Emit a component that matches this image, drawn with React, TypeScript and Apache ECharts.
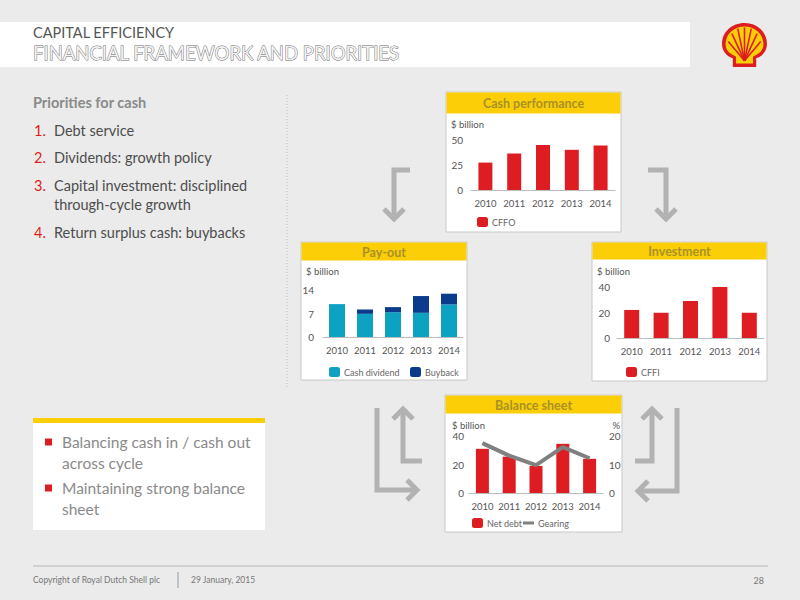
import React, { useEffect, useRef } from 'react';
import * as echarts from 'echarts';

// ---------- data ----------
const years = ['2010', '2011', '2012', '2013', '2014'];
const cffo = [27.4, 36.5, 45.0, 40.2, 44.5];
const cashDividend = [9.8, 6.9, 7.4, 7.2, 9.7];
const buyback = [0, 1.3, 1.5, 5.0, 3.2];
const cffi = [22.0, 19.8, 29.0, 40.0, 19.8];
const netDebt = [31.0, 25.5, 19.0, 34.5, 24.0];
const gearing = [17.5, 13.1, 9.8, 16.1, 12.2];

const cashTicks = [0, 25, 50];
const payoutTicks = [0, 7, 14];
const investTicks = [0, 20, 40];
const debtTicks = [0, 20, 40];
const gearingTicks = [0, 10, 20];

const priorities = [
  ['1.', 'Debt service'],
  ['2.', 'Dividends: growth policy'],
  ['3.', 'Capital investment: disciplined', 'through-cycle growth'],
  ['4.', 'Return surplus cash: buybacks'],
];
const principles = [
  ['Balancing cash in / cash out', 'across cycle'],
  ['Maintaining strong balance', 'sheet'],
];

// ---------- style ----------
const FONT = "Lato, 'Open Sans', sans-serif";
const RED = '#dd1d21';
const YELLOW = '#fbce07';
const TEAL = '#0ea2c2';
const NAVY = '#0b3b8c';
const GREY_LINE = '#808080';
const ARROW = '#b2b2b2';

echarts.graphic.registerShape(
  'pectenOuter',
  echarts.graphic.extendPath(
    'M50 0 C22 0 0 20 0 48 C0 62 8 72 18 78 L24 80 L24 100 L76 100 L76 80 L82 78 C92 72 100 62 100 48 C100 20 78 0 50 0 Z',
    {}
  )
);
echarts.graphic.registerShape(
  'pectenInner',
  echarts.graphic.extendPath(
    'M50 8 C27 8 8 25 8 48 C8 60 15 68 24 73 L31 76 L31 92 L69 92 L69 76 L76 73 C85 68 92 60 92 48 C92 25 73 8 50 8 Z',
    {}
  )
);

function txt(x: number, y: number, text: string, size: number, fill: string, extra: any = {}) {
  return {
    type: 'text',
    x,
    y,
    z: 5,
    style: {
      text,
      fontSize: size,
      fontFamily: extra.fontFamily || FONT,
      fontWeight: extra.fontWeight || 'normal',
      fill,
      stroke: extra.stroke,
      lineWidth: extra.lineWidth || 0,
      align: extra.align || 'left',
      verticalAlign: 'middle',
    },
  };
}

function panel(x: number, y: number, w: number, h: number, hh: number, title: string) {
  return [
    { type: 'rect', z: -5, shape: { x, y, width: w, height: h }, style: { fill: '#ffffff', stroke: '#c8c8c8', lineWidth: 1 } },
    { type: 'rect', z: -4, shape: { x: x + 0.5, y: y + 0.5, width: w - 1, height: hh }, style: { fill: YELLOW } },
    txt(x + w / 2, y + hh / 2 + 1, title, 12.5, '#a89226', { align: 'center', fontWeight: 'bold' }),
  ];
}

function arrow(points: number[][], head: number[][]) {
  return [
    { type: 'polyline', z: 1, shape: { points }, style: { stroke: ARROW, lineWidth: 5, fill: null, lineJoin: 'miter' } },
    { type: 'polyline', z: 1, shape: { points: head }, style: { stroke: ARROW, lineWidth: 5, fill: null, lineJoin: 'miter' } },
  ];
}

function legend(name: string, left: number, top: number, icon?: string) {
  return {
    data: [icon ? { name, icon } : { name }],
    left,
    top,
    padding: 0,
    itemWidth: 11,
    itemHeight: 10,
    selectedMode: false,
    textStyle: { fontSize: 9, color: '#666', fontFamily: FONT, padding: [0, 0, 0, -1] },
  };
}

function cat(gridIndex: number) {
  return {
    type: 'category',
    gridIndex,
    data: years,
    axisLine: { lineStyle: { color: '#bdbdbd', width: 1 } },
    axisTick: { show: false },
    axisLabel: { color: '#555', fontSize: 9.5, fontFamily: FONT, margin: 8, interval: 0 },
  };
}

function val(gridIndex: number, ticks: number[], margin: number, extra: any = {}) {
  return {
    type: 'value',
    gridIndex,
    min: ticks[0],
    max: ticks[ticks.length - 1],
    interval: ticks[1] - ticks[0],
    splitLine: { show: false },
    axisLine: { show: false },
    axisTick: { show: false },
    axisLabel: { color: '#555', fontSize: 10, fontFamily: FONT, margin },
    ...extra,
  };
}

export default function App() {
  const ref = useRef<HTMLDivElement>(null);

  useEffect(() => {
    const chart = echarts.init(ref.current!, undefined, { renderer: 'svg' });

    const graphics: any[] = [];
    // title band
    graphics.push({ type: 'rect', z: -5, shape: { x: 0, y: 22, width: 690, height: 45 }, style: { fill: '#ffffff' } });
    graphics.push(txt(33, 32, 'CAPITAL EFFICIENCY', 14.5, '#555'));
    graphics.push(txt(33, 53, 'FINANCIAL FRAMEWORK AND PRIORITIES', 18.5, '#f2f2f2', { stroke: '#6a6a6a', lineWidth: 0.9 }));

    // logo
    const ribs = [
      [14, 42], [22, 24], [35, 13], [50, 10], [65, 13], [78, 24], [86, 42],
    ].map((p) => ({ type: 'line', shape: { x1: 50, y1: 86, x2: p[0], y2: p[1] }, style: { stroke: RED, lineWidth: 3.5 } }));
    graphics.push({
      type: 'group',
      x: 722,
      y: 23,
      scaleX: 0.45,
      scaleY: 0.44,
      z: 5,
      children: [
        { type: 'pectenOuter', style: { fill: RED } },
        { type: 'pectenInner', style: { fill: YELLOW } },
        ...ribs,
      ],
    });

    // left priorities text
    graphics.push(txt(33, 102, 'Priorities for cash', 14.5, '#8a8a8a', { fontWeight: 'bold' }));
    const ys = [130, 157, 185, 232];
    priorities.forEach((p, i) => {
      graphics.push(txt(34, ys[i], p[0], 14.5, RED));
      graphics.push(txt(54, ys[i], p[1], 14.5, '#4d4d4d'));
      if (p[2]) graphics.push(txt(54, ys[i] + 19, p[2], 14.5, '#4d4d4d'));
    });

    // dotted separator
    graphics.push({ type: 'line', z: 0, shape: { x1: 287, y1: 95, x2: 287, y2: 388 }, style: { stroke: '#bdbdbd', lineWidth: 1, lineDash: [1, 2] } });

    // bottom-left box
    graphics.push({ type: 'rect', z: -5, shape: { x: 33, y: 423, width: 232, height: 107 }, style: { fill: '#ffffff' } });
    graphics.push({ type: 'rect', z: -4, shape: { x: 33, y: 418, width: 232, height: 5 }, style: { fill: YELLOW } });
    const by = [442, 488];
    principles.forEach((p, i) => {
      graphics.push({ type: 'rect', z: 5, shape: { x: 45, y: by[i] - 3.5, width: 7, height: 7 }, style: { fill: RED } });
      graphics.push(txt(62, by[i], p[0], 15.5, '#8a8a8a'));
      graphics.push(txt(62, by[i] + 21, p[1], 15.5, '#8a8a8a'));
    });

    // footer
    graphics.push({ type: 'line', shape: { x1: 33, y1: 566, x2: 768, y2: 566 }, style: { stroke: '#b5b5b5', lineWidth: 1 } });
    graphics.push({ type: 'line', shape: { x1: 178, y1: 572, x2: 178, y2: 588 }, style: { stroke: '#999', lineWidth: 1 } });
    graphics.push(txt(33, 580, 'Copyright of Royal Dutch Shell plc', 8.5, '#777'));
    graphics.push(txt(191, 580, '29 January, 2015', 8.5, '#777'));
    graphics.push(txt(764, 580, '28', 9, '#777', { align: 'right' }));

    // panels
    graphics.push(...panel(446, 92, 175, 140, 21, 'Cash performance'));
    graphics.push(...panel(301, 242, 166, 138, 18, 'Pay-out'));
    graphics.push(...panel(592, 242, 175, 139, 17, 'Investment'));
    graphics.push(...panel(445, 395, 177, 137, 18, 'Balance sheet'));

    // unit labels
    graphics.push(txt(451, 124, '$ billion', 9.5, '#555'));
    graphics.push(txt(306, 271, '$ billion', 9.5, '#555'));
    graphics.push(txt(597, 271, '$ billion', 9.5, '#555'));
    graphics.push(txt(452, 425, '$ billion', 9.5, '#555'));
    graphics.push(txt(620, 425, '%', 9.5, '#555', { align: 'right' }));

    // arrows
    graphics.push(...arrow([[410, 170], [394, 170], [394, 218]], [[384, 209], [394, 219], [404, 209]]));
    graphics.push(...arrow([[648, 170], [666, 170], [666, 218]], [[656, 209], [666, 219], [676, 209]]));
    graphics.push(...arrow([[377, 408], [377, 490], [416, 490]], [[407, 480], [417, 490], [407, 500]]));
    graphics.push(...arrow([[422, 461], [403, 461], [403, 410]], [[393, 419], [403, 409], [413, 419]]));
    graphics.push(...arrow([[677, 408], [677, 491], [639, 491]], [[648, 481], [638, 491], [648, 501]]));
    graphics.push(...arrow([[635, 461], [652, 461], [652, 410]], [[642, 419], [652, 409], [662, 419]]));

    const option: any = {
      animation: false,
      backgroundColor: '#ebebeb',
      textStyle: { fontFamily: FONT },
      grid: [
        { left: 471, width: 144, top: 140, height: 50 },
        { left: 323, width: 140, top: 290, height: 47 },
        { left: 617, width: 147, top: 287, height: 51 },
        { left: 469, width: 134, top: 436, height: 57 },
      ],
      xAxis: [cat(0), cat(1), cat(2), cat(3)],
      yAxis: [
        val(0, cashTicks, 8),
        val(1, payoutTicks, 9),
        val(2, investTicks, 7),
        val(3, debtTicks, 5),
        val(3, gearingTicks, 6, { position: 'right' }),
      ],
      legend: [
        legend('CFFO', 477, 217),
        legend('Cash dividend', 329, 367),
        legend('Buyback', 410, 367),
        legend('CFFI', 626, 367),
        legend('Net debt', 472, 518),
        legend('Gearing', 523, 518, 'path://M0,0 M0,3.5 L11,3.5 L11,6.5 L0,6.5 Z M11,10'),
      ],
      series: [
        { name: 'CFFO', type: 'bar', xAxisIndex: 0, yAxisIndex: 0, data: cffo, barWidth: 14, itemStyle: { color: RED } },
        { name: 'Cash dividend', type: 'bar', stack: 'payout', xAxisIndex: 1, yAxisIndex: 1, data: cashDividend, barWidth: 16, itemStyle: { color: TEAL } },
        { name: 'Buyback', type: 'bar', stack: 'payout', xAxisIndex: 1, yAxisIndex: 1, data: buyback, barWidth: 16, itemStyle: { color: NAVY } },
        { name: 'CFFI', type: 'bar', xAxisIndex: 2, yAxisIndex: 2, data: cffi, barWidth: 15, itemStyle: { color: RED } },
        { name: 'Net debt', type: 'bar', xAxisIndex: 3, yAxisIndex: 3, data: netDebt, barWidth: 13, itemStyle: { color: RED } },
        {
          name: 'Gearing', type: 'line', xAxisIndex: 3, yAxisIndex: 4, data: gearing, symbol: 'none', z: 3,
          lineStyle: { color: GREY_LINE, width: 4 }, itemStyle: { color: GREY_LINE },
        },
      ],
      graphic: { elements: graphics },
    };
    chart.setOption(option);
    return () => chart.dispose();
  }, []);

  return <div ref={ref} style={{ position: 'fixed', left: 0, top: 0, width: 800, height: 600 }} />;
}
